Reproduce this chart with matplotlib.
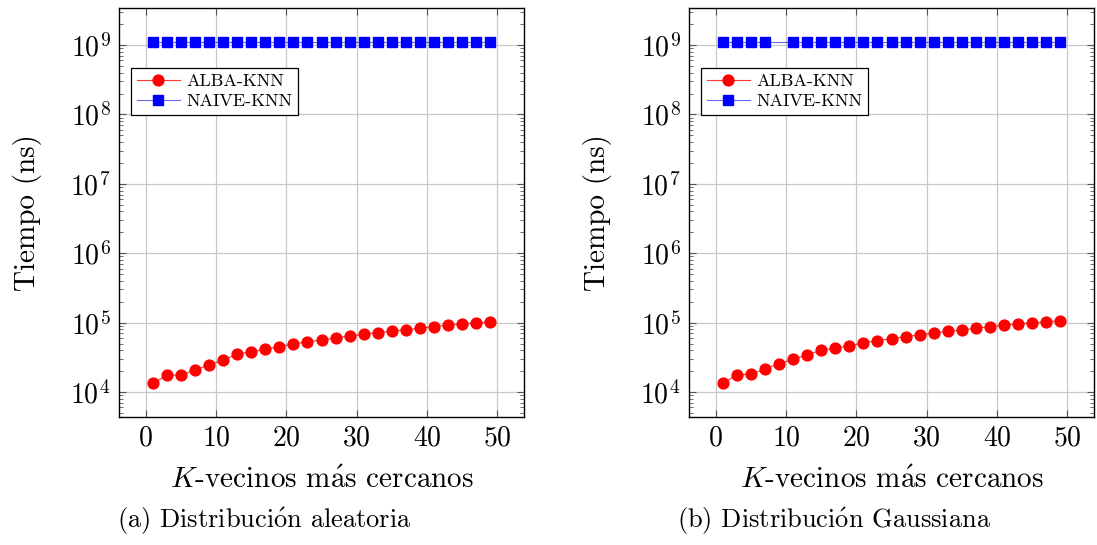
import numpy as np
import matplotlib
matplotlib.use("Agg")
import matplotlib.pyplot as plt
from matplotlib.ticker import LogLocator, NullFormatter, MultipleLocator

plt.rcParams['font.family'] = ['cmr10', 'DejaVu Serif']
plt.rcParams['mathtext.fontset'] = 'cm'
plt.rcParams['axes.formatter.use_mathtext'] = True

# ---- data ----
k_values = [1, 3, 5, 7, 9, 11, 13, 15, 17, 19, 21, 23, 25, 27, 29, 31, 33, 35, 37, 39, 41, 43, 45, 47, 49]

alba_random = [1.33e4, 1.74e4, 1.76e4, 2.07e4, 2.45e4, 2.87e4, 3.53e4, 3.78e4, 4.13e4, 4.5e4,
               4.93e4, 5.27e4, 5.62e4, 6.0e4, 6.4e4, 6.8e4, 7.2e4, 7.5e4, 7.85e4, 8.3e4,
               8.75e4, 9.2e4, 9.6e4, 9.9e4, 1.02e5]
naive_random = [1.12e9] * 25

alba_gauss = [1.33e4, 1.77e4, 1.8e4, 2.15e4, 2.56e4, 2.96e4, 3.42e4, 3.99e4, 4.26e4, 4.66e4,
              5.09e4, 5.5e4, 5.88e4, 6.28e4, 6.71e4, 7.1e4, 7.5e4, 7.84e4, 8.28e4, 8.75e4,
              9.16e4, 9.57e4, 9.9e4, 1.02e5, 1.07e5]
k_gauss_naive = [1, 3, 5, 7, 11, 13, 15, 17, 19, 21, 23, 25, 27, 29, 31, 33, 35, 37, 39, 41, 43, 45, 47, 49]
naive_gauss = [1.12e9] * 24

series_labels = ["ALBA-KNN", "NAIVE-KNN"]
captions = [r"(a) Distribuci$\mathrm{\acute{o}}$n aleatoria", r"(b) Distribuci$\mathrm{\acute{o}}$n Gaussiana"]
xlabel = r"$K$-vecinos m$\mathrm{\acute{a}}$s cercanos"
ylabel = "Tiempo (ns)"

W, H = 1097, 545
fig = plt.figure(figsize=(W / 100, H / 100), dpi=100)

panels = [
    (119, k_values, alba_random, k_values, naive_random, captions[0], 117),
    (689, k_values, alba_gauss, k_gauss_naive, naive_gauss, captions[1], 677),
]

for left, kx, alba, kn, naive, cap, capx in panels:
    ax = fig.add_axes([left / W, 1 - 417 / H, 405 / W, 409 / H])
    ax.plot(kx, alba, color=(1, 0, 0, 0.8), lw=0.8, marker='o', ms=7.8, mec='red', mfc='red',
            label=series_labels[0], zorder=3)
    ax.plot(kn, naive, color=(0, 0, 1, 0.6), lw=0.8, marker='s', ms=7.3, mec='blue', mfc='blue',
            label=series_labels[1], zorder=3)
    ax.set_yscale('log')
    ax.set_xlim(-3.8, 53.8)
    ax.set_ylim(10 ** 3.64, 10 ** 9.533)
    ax.xaxis.set_major_locator(MultipleLocator(10))
    ax.yaxis.set_major_locator(LogLocator(base=10, numticks=20))
    ax.yaxis.set_minor_locator(LogLocator(base=10, subs=np.arange(2, 10), numticks=20))
    ax.yaxis.set_minor_formatter(NullFormatter())
    ax.grid(True, which='major', color='#c8c8c8', lw=0.9)
    ax.set_axisbelow(True)
    ax.tick_params(which='both', direction='in', top=True, right=True,
                   labelsize=20, color='#555555')
    ax.tick_params(which='major', length=5, width=0.8, pad=6)
    ax.tick_params(which='minor', length=2.8, width=0.6)
    for s in ax.spines.values():
        s.set_linewidth(1.0)
        s.set_color('black')
    ax.set_xlabel(xlabel, fontsize=21, labelpad=11)
    ax.set_ylabel(ylabel, fontsize=21, labelpad=20)
    leg = ax.legend(loc='upper left', bbox_to_anchor=(0.03, 0.853), fontsize=13,
                    frameon=True, fancybox=False, edgecolor='black', framealpha=1,
                    borderpad=0.3, handlelength=2.4, handletextpad=0.35,
                    labelspacing=0.25, borderaxespad=0)
    leg.get_frame().set_linewidth(0.9)
    fig.text(capx / W, 1 - 521 / H, cap, fontsize=19, ha='left', va='center')

fig.savefig("out.png", dpi=100)
